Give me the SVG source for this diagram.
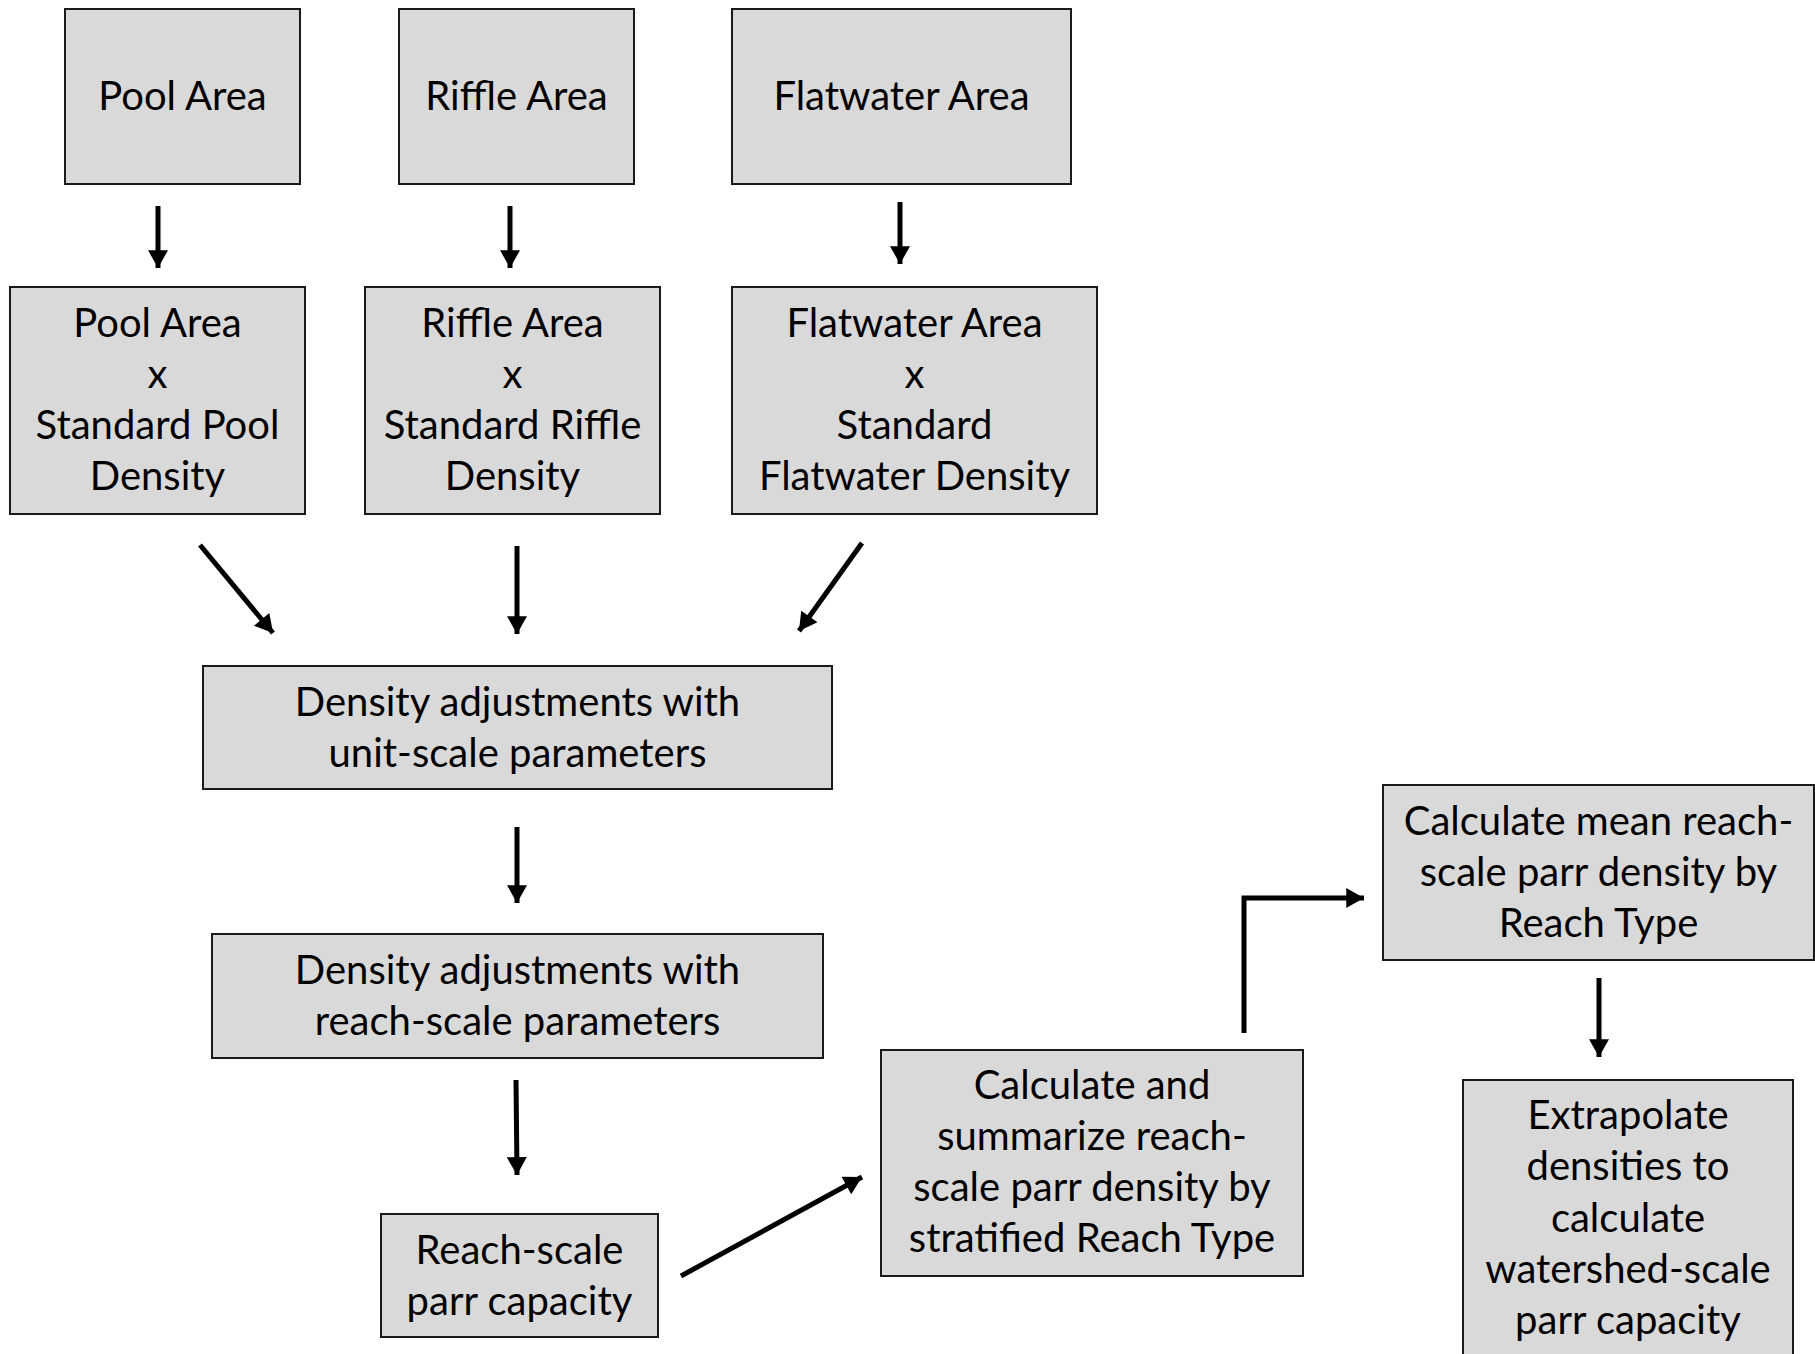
<svg xmlns="http://www.w3.org/2000/svg" width="1815" height="1354" viewBox="0 0 1815 1354">
<style>
.box{fill:#d9d9d9;stroke:#1a1a1a;stroke-width:2}
.t{font-family:Lato,"Open Sans",sans-serif;font-size:40px;fill:#000;text-anchor:middle}
.c{stroke:#000;stroke-width:5;fill:none}
</style>
<defs>
<marker id="ah" markerUnits="userSpaceOnUse" markerWidth="20" markerHeight="20" viewBox="0 0 16 18" refX="16" refY="9" orient="auto">
<path d="M0,0 L16,9 L0,18 Z" fill="#000"/>
</marker>
</defs>
<rect width="1815" height="1354" fill="#fff"/>
<g id="connectors">
<line class="c" x1="158" y1="206" x2="158" y2="268" marker-end="url(#ah)"/>
<line class="c" x1="510" y1="206" x2="510" y2="268" marker-end="url(#ah)"/>
<line class="c" x1="900" y1="202" x2="900" y2="264" marker-end="url(#ah)"/>
<line class="c" x1="200" y1="545" x2="273" y2="633" marker-end="url(#ah)"/>
<line class="c" x1="517" y1="546" x2="517" y2="634" marker-end="url(#ah)"/>
<line class="c" x1="862" y1="543" x2="799" y2="631" marker-end="url(#ah)"/>
<line class="c" x1="517" y1="827" x2="517" y2="903" marker-end="url(#ah)"/>
<line class="c" x1="516" y1="1080" x2="517" y2="1175" marker-end="url(#ah)"/>
<line class="c" x1="681" y1="1276" x2="862" y2="1177" marker-end="url(#ah)"/>
<polyline class="c" points="1244,1033 1244,898 1364,898" marker-end="url(#ah)"/>
<line class="c" x1="1599" y1="978" x2="1599" y2="1057" marker-end="url(#ah)"/>
</g>
<g id="pool-area"><rect class="box" x="65" y="9" width="235" height="175"/><text class="t" x="182.5" y="110">Pool Area</text></g>
<g id="riffle-area"><rect class="box" x="399" y="9" width="235" height="175"/><text class="t" x="516.5" y="110">Riffle Area</text></g>
<g id="flatwater-area"><rect class="box" x="732" y="9" width="339" height="175"/><text class="t" x="901.5" y="110">Flatwater Area</text></g>
<g id="pool-density"><rect class="box" x="10" y="287" width="295" height="227"/>
<text class="t" x="157.5" y="337">Pool Area</text><text class="t" x="157.5" y="388">x</text><text class="t" x="157.5" y="439">Standard Pool</text><text class="t" x="157.5" y="490">Density</text></g>
<g id="riffle-density"><rect class="box" x="365" y="287" width="295" height="227"/>
<text class="t" x="512.5" y="337">Riffle Area</text><text class="t" x="512.5" y="388">x</text><text class="t" x="512.5" y="439">Standard Riffle</text><text class="t" x="512.5" y="490">Density</text></g>
<g id="flatwater-density"><rect class="box" x="732" y="287" width="365" height="227"/>
<text class="t" x="914.5" y="337">Flatwater Area</text><text class="t" x="914.5" y="388">x</text><text class="t" x="914.5" y="439">Standard</text><text class="t" x="914.5" y="490">Flatwater Density</text></g>
<g id="unit-scale"><rect class="box" x="203" y="666" width="629" height="123"/>
<text class="t" x="517.5" y="716">Density adjustments with</text><text class="t" x="517.5" y="767">unit-scale parameters</text></g>
<g id="reach-scale"><rect class="box" x="212" y="934" width="611" height="124"/>
<text class="t" x="517.5" y="984">Density adjustments with</text><text class="t" x="517.5" y="1035">reach-scale parameters</text></g>
<g id="parr-capacity"><rect class="box" x="381" y="1214" width="277" height="123"/>
<text class="t" x="519.5" y="1264">Reach-scale</text><text class="t" x="519.5" y="1315">parr capacity</text></g>
<g id="summarize"><rect class="box" x="881" y="1050" width="422" height="226"/>
<text class="t" x="1092" y="1099">Calculate and</text><text class="t" x="1092" y="1150">summarize reach-</text><text class="t" x="1092" y="1201">scale parr density by</text><text class="t" x="1092" y="1252">stratified Reach Type</text></g>
<g id="mean-density"><rect class="box" x="1383" y="785" width="431" height="175"/>
<text class="t" x="1598.5" y="835">Calculate mean reach-</text><text class="t" x="1598.5" y="886">scale parr density by</text><text class="t" x="1598.5" y="937">Reach Type</text></g>
<g id="extrapolate"><rect class="box" x="1463" y="1080" width="330" height="290"/>
<text class="t" x="1628" y="1129">Extrapolate</text><text class="t" x="1628" y="1180">densities to</text><text class="t" x="1628" y="1232">calculate</text><text class="t" x="1628" y="1283">watershed-scale</text><text class="t" x="1628" y="1334">parr capacity</text></g>
</svg>
